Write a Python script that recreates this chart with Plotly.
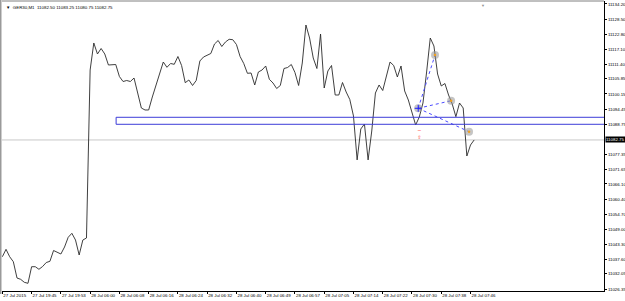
import plotly.graph_objects as go

# ---- data (GER30, M1 line chart, close prices) ----
closes = [
    11038.57, 11041.37, 11038.57, 11036.68, 11030.51, 11030.02, 11028.89, 11028.51,
    11034.79, 11034.79, 11033.81, 11034.87, 11036.38, 11036.83, 11040.92, 11040.16,
    11039.60, 11042.25, 11045.92, 11047.43, 11044.89, 11039.22, 11044.89, 11045.65,
    11109.22, 11119.44, 11115.28, 11117.36, 11115.28, 11111.11, 11111.11, 11111.30,
    11106.76, 11104.87, 11105.25, 11104.87, 11106.19, 11100.90, 11094.84, 11094.09,
    11094.09, 11099.01, 11103.55, 11108.09, 11112.25, 11110.24, 11111.68, 11111.38,
    11114.33, 11110.92, 11104.42, 11105.44, 11103.36, 11105.25, 11112.63, 11114.14,
    11114.90, 11115.47, 11119.06, 11120.38, 11118.11, 11119.82, 11120.84, 11120.69,
    11118.87, 11114.33, 11111.68, 11107.97, 11108.09, 11103.55, 11108.47, 11109.22,
    11110.74, 11105.70, 11104.30, 11102.22, 11103.36, 11109.79, 11110.17, 11111.30,
    11108.28, 11103.36, 11111.87, 11126.25, 11121.33, 11113.76, 11109.79, 11122.84,
    11102.41, 11108.84, 11110.92, 11099.76, 11099.76, 11104.49, 11100.90, 11098.06,
    11091.82, 11075.20, 11086.90, 11088.79, 11075.20, 11086.14, 11100.52, 11103.55,
    11101.46, 11107.33, 11112.25, 11110.92, 11106.57, 11110.74, 11101.28, 11097.87,
    11093.33, 11088.41, 11091.44, 11096.73, 11108.47, 11121.33, 11118.30, 11107.71,
    11103.17, 11104.11, 11099.76, 11096.36, 11091.55, 11096.73, 11094.84, 11076.68,
    11080.84, 11082.75,
]
bars = list(range(len(closes)))

time_tick_bars = [0, 8, 16, 24, 32, 40, 48, 56, 64, 72, 80, 88, 96, 104, 112, 120, 128]
time_tick_labels = [
    "27 Jul 2015", "27 Jul 19:45", "27 Jul 19:53", "28 Jul 06:00", "28 Jul 06:08",
    "28 Jul 06:16", "28 Jul 06:24", "28 Jul 06:32", "28 Jul 06:40", "28 Jul 06:49",
    "28 Jul 06:57", "28 Jul 07:05", "28 Jul 07:14", "28 Jul 07:22", "28 Jul 07:30",
    "28 Jul 07:38", "28 Jul 07:46",
]
price_tick_labels = [
    "11134.20", "11128.50", "11122.80", "11117.10", "11111.40", "11105.85",
    "11100.15", "11094.45", "11088.75", "11077.35", "11071.65", "11066.10",
    "11060.40", "11054.70", "11049.00", "11043.30", "11037.60", "11032.05",
    "11026.35",
]
price_tick_vals = [float(v) for v in price_tick_labels]

last_price = 11082.75
header = "GER30,M1  11082.50 11083.25 11080.75 11082.75"

# drawn objects
rect_start_bar = 31.1
rect_top, rect_bottom = 11091.33, 11088.68
anchor_pt = (113.7, 11094.73)
wave_bars = [118.3, 122.7, 127.6]
wave_prices = [11114.90, 11097.60, 11085.87]
signal_bar = 114.0
signal_minus_price = 11086.14
signal_arrow_price = 11083.76

FONT = "Liberation Sans"
FS = 4.4

fig = go.Figure()

# current price line
fig.add_shape(type="line", xref="paper", x0=0, x1=1, yref="y",
              y0=last_price, y1=last_price, line=dict(color="#c8c8c8", width=1), layer="below")

# blue rectangle
fig.add_shape(type="rect", xref="x", yref="y", x0=rect_start_bar, x1=400,
              y0=rect_bottom, y1=rect_top, line=dict(color="#3c3cd8", width=1),
              fillcolor="rgba(0,0,0,0)")

# price line
fig.add_trace(go.Scatter(x=bars, y=closes, mode="lines",
                         line=dict(color="#2a2a2a", width=0.9), hoverinfo="skip"))

# dotted blue lines from anchor
for wb, wp in zip(wave_bars, wave_prices):
    fig.add_trace(go.Scatter(x=[anchor_pt[0], wb], y=[anchor_pt[1], wp], mode="lines",
                             line=dict(color="#4a4aff", width=1, dash="dot"), hoverinfo="skip"))

# circles
all_cb = [anchor_pt[0]] + wave_bars
all_cp = [anchor_pt[1]] + wave_prices
fig.add_trace(go.Scatter(x=all_cb, y=all_cp, mode="markers",
                         marker=dict(size=8, color="rgba(150,150,150,0.55)",
                                     line=dict(width=0)), hoverinfo="skip"))
fig.add_trace(go.Scatter(x=wave_bars, y=wave_prices, mode="markers",
                         marker=dict(size=2.5, color="#f0a020"), hoverinfo="skip"))
fig.add_trace(go.Scatter(x=[anchor_pt[0]], y=[anchor_pt[1]], mode="markers",
                         marker=dict(size=5, symbol="cross-thin",
                                     line=dict(color="#2020ff", width=1)), hoverinfo="skip"))

# red signal marks
fig.add_trace(go.Scatter(x=[signal_bar, signal_bar], y=[signal_minus_price, signal_arrow_price],
                         mode="text", text=["−", "⇧"],
                         textfont=dict(color="#ff3030", size=5, family="DejaVu Sans"),
                         hoverinfo="skip"))

fig.update_layout(
    width=625, height=301,
    margin=dict(l=2, r=21, t=1, b=10),
    paper_bgcolor="white", plot_bgcolor="white",
    showlegend=False,
    font=dict(family=FONT, size=FS, color="black"),
    xaxis=dict(range=[-0.1, 164.5], showgrid=False, zeroline=False, automargin=False,
               tickmode="array", tickvals=time_tick_bars, ticktext=time_tick_labels,
               tickangle=0,
               ticklabelposition="outside right", ticks="outside", ticklen=2,
               tickcolor="black", tickfont=dict(size=FS, family=FONT),
               showline=True, linecolor="black", linewidth=1),
    yaxis=dict(range=[11025.60, 11135.33], side="right", showgrid=False, zeroline=False,
               automargin=False,
               tickmode="array", tickvals=price_tick_vals, ticktext=price_tick_labels,
               ticks="outside", ticklen=2, tickcolor="black",
               tickfont=dict(size=FS, family=FONT),
               showline=True, linecolor="black", linewidth=1),
)

# frame: left gray border and top line
fig.add_shape(type="line", xref="paper", yref="paper", x0=-0.0025, x1=-0.0025, y0=-0.01, y1=1.01,
              line=dict(color="#9a9a9a", width=2))
fig.add_shape(type="line", xref="paper", yref="paper", x0=0, x1=1, y0=1, y1=1,
              line=dict(color="#808080", width=1))

# current price label
fig.add_annotation(xref="paper", x=1.0, xanchor="left", yref="y", y=last_price,
                   text="11082.75", showarrow=False, bgcolor="black",
                   font=dict(color="white", size=FS, family=FONT), borderpad=0, xshift=1)

# header text
fig.add_annotation(xref="paper", yref="paper", x=0.004, y=0.993, xanchor="left", yanchor="top",
                   text="▼  " + header, showarrow=False,
                   font=dict(size=FS, family=FONT, color="black"))

# chart shift marker at top
fig.add_annotation(xref="x", yref="paper", x=131.5, y=1.0, yanchor="top", text="▼",
                   showarrow=False, font=dict(size=4, color="#909090"))

fig.write_html("out.html")
